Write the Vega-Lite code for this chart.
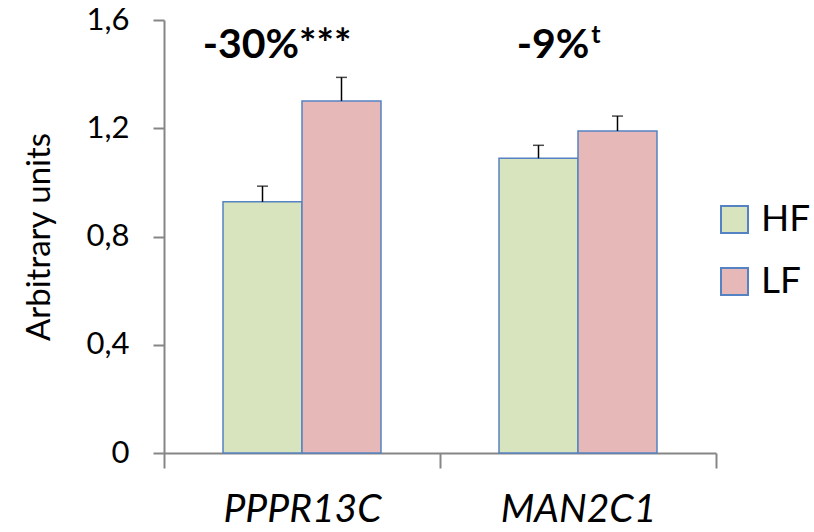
{
  "$schema": "https://vega.github.io/schema/vega-lite/v6.json",
  "width": 552,
  "height": 433,
  "autosize": "none",
  "padding": {"left": 164, "top": 20, "right": 98, "bottom": 79},
  "background": "white",
  "config": {
    "view": {"stroke": null},
    "font": "Lato",
    "axis": {"labelFont": "Lato", "titleFont": "Lato", "grid": false, "domainColor": "#868686", "tickColor": "#868686", "domainWidth": 2, "tickWidth": 2, "labelColor": "black", "titleColor": "black"}
  },
  "datasets": {
    "bars": [
      {"gene": "PPPR13C", "group": "HF", "value": 0.928, "upper": 0.986},
      {"gene": "PPPR13C", "group": "LF", "value": 1.301, "upper": 1.388},
      {"gene": "MAN2C1", "group": "HF", "value": 1.089, "upper": 1.137},
      {"gene": "MAN2C1", "group": "LF", "value": 1.190, "upper": 1.245}
    ],
    "notes": [
      {"gene": "PPPR13C", "label": "-30%***"},
      {"gene": "MAN2C1", "label": "-9%"}
    ],
    "sup": [
      {"gene": "MAN2C1", "label": "t"}
    ]
  },
  "encoding": {
    "x": {
      "field": "gene", "type": "nominal", "sort": ["PPPR13C", "MAN2C1"],
      "scale": {"paddingInner": 0, "paddingOuter": 0},
      "axis": {"title": null, "tickBand": "extent", "tickSize": 15, "labelFontSize": 39, "labelFontStyle": "italic", "labelPadding": 22, "labelAngle": 0}
    }
  },
  "layer": [
    {
      "data": {"name": "bars"},
      "mark": {"type": "bar", "stroke": "#5582c2", "strokeWidth": 1.5},
      "encoding": {
        "xOffset": {"field": "group", "type": "nominal", "sort": ["HF", "LF"], "scale": {"paddingInner": 0, "paddingOuter": 0.747}},
        "y": {
          "field": "value", "type": "quantitative",
          "scale": {"domain": [0, 1.6], "nice": false},
          "axis": {"title": "Arbitrary units", "titleFontSize": 33, "titleFontWeight": "normal", "titlePadding": 30, "values": [0, 0.4, 0.8, 1.2, 1.6], "labelFontSize": 31, "tickSize": 11, "labelPadding": 24, "labelExpr": "datum.value == 0 ? '0' : replace(format(datum.value, '.1f'), '.', ',')"}
        },
        "fill": {
          "field": "group", "type": "nominal",
          "scale": {"domain": ["HF", "LF"], "range": ["#d7e4bd", "#e6b9b8"]},
          "legend": {"title": null, "orient": "none", "legendX": 552, "legendY": 181, "symbolType": "square", "symbolSize": 729, "symbolStrokeColor": "#5582c2", "symbolStrokeWidth": 2, "labelFontSize": 37, "labelFont": "Lato", "labelOffset": 8, "rowPadding": 24, "labelColor": "black"}
        }
      }
    },
    {
      "data": {"name": "bars"},
      "mark": {"type": "rule", "color": "black", "strokeWidth": 1.5},
      "encoding": {
        "xOffset": {"field": "group", "type": "nominal", "sort": ["HF", "LF"]},
        "y": {"field": "value", "type": "quantitative"},
        "y2": {"field": "upper"}
      }
    },
    {
      "data": {"name": "bars"},
      "mark": {"type": "tick", "color": "black", "thickness": 1.5, "size": 11, "orient": "horizontal"},
      "encoding": {
        "xOffset": {"field": "group", "type": "nominal", "sort": ["HF", "LF"]},
        "y": {"field": "upper", "type": "quantitative"}
      }
    },
    {
      "data": {"name": "notes"},
      "mark": {"type": "text", "font": "Lato", "fontWeight": "bold", "fontSize": 41, "align": "center", "baseline": "alphabetic", "dx": -25, "color": "black"},
      "encoding": {
        "y": {"datum": 1.46, "type": "quantitative"},
        "text": {"field": "label"}
      }
    },
    {
      "data": {"name": "sup"},
      "mark": {"type": "text", "font": "Lato", "fontWeight": "bold", "fontSize": 25, "align": "center", "baseline": "alphabetic", "dx": 18, "color": "black"},
      "encoding": {
        "y": {"datum": 1.515, "type": "quantitative"},
        "text": {"field": "label"}
      }
    }
  ]
}
